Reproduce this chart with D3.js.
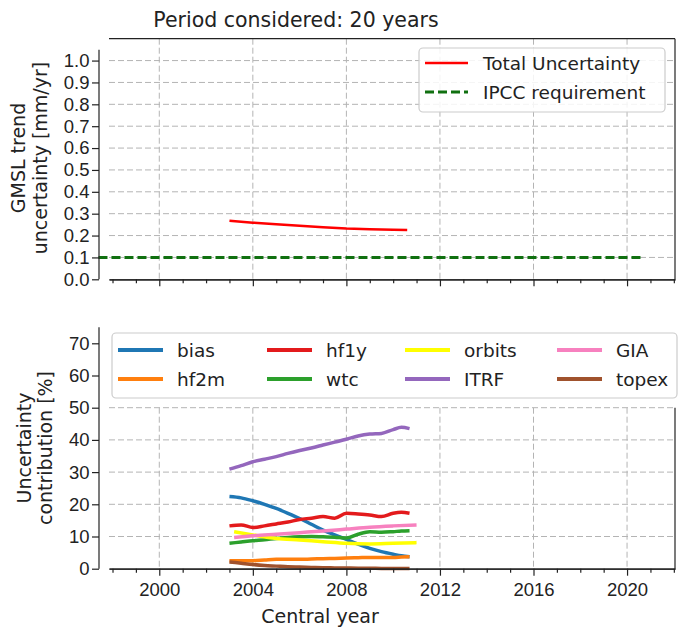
<!DOCTYPE html>
<html>
<head>
<meta charset="utf-8">
<script src="https://cdn.jsdelivr.net/npm/d3@7"></script>
<style>
  body { margin: 0; background: #fff; }
  svg { font-family: "DejaVu Sans", sans-serif; }
</style>
</head>
<body>
<div id="chart"></div>
<script>
// ---- data ----
var totalYears = [2003, 2004, 2005, 2006, 2007, 2008, 2009, 2010, 2010.6];
var totalUnc = [0.268, 0.259, 0.252, 0.245, 0.238, 0.232, 0.229, 0.227, 0.225];
var ipccYears = [1997.4, 2020.6];
var ipccReq = [0.1, 0.1];

var years = [2003, 2003.5, 2004, 2004.5, 2005, 2005.5, 2006, 2006.5, 2007, 2007.5,
             2008, 2008.5, 2009, 2009.5, 2010, 2010.35, 2010.7];
var bias = [22.4, 22.0, 21.1, 20.0, 18.7, 17.2, 15.6, 13.8, 12.0, 10.5, 9.1, 7.6, 6.3, 5.3, 4.5, 4.0, 3.7];
var hf2m = [2.5, 2.5, 2.5, 2.7, 2.9, 2.9, 2.9, 3.0, 3.1, 3.2, 3.3, 3.4, 3.5, 3.5, 3.5, 3.6, 3.7];
var hf1y = [13.3, 13.6, 12.8, 13.3, 13.9, 14.5, 15.3, 15.7, 16.2, 15.7, 17.2, 17.0, 16.7, 16.2, 17.2, 17.5, 17.2];
var wtc = [7.9, 8.3, 8.7, 9.0, 9.4, 9.7, 9.9, 10.0, 9.9, 9.8, 9.5, 10.7, 11.5, 11.3, 11.5, 11.7, 11.8];
var itrf = [30.9, 32.0, 33.2, 34.0, 34.8, 35.8, 36.7, 37.5, 38.4, 39.3, 40.2, 41.2, 41.8, 42.0, 43.2, 43.9, 43.5];
var topex = [2.1, 1.7, 1.3, 1.0, 0.8, 0.6, 0.5, 0.4, 0.3, 0.25, 0.2, 0.15, 0.15, 0.1, 0.1, 0.1, 0.1];

var yearsLong = [2003.2, 2004, 2005, 2006, 2007, 2008, 2009, 2010, 2011];
var orbits = [11.5, 10.5, 9.4, 8.9, 8.4, 7.9, 7.7, 7.9, 8.1];
var gia = [9.7, 10.2, 10.7, 11.2, 11.7, 12.3, 12.9, 13.3, 13.6];

var topTicks = [0, 0.1, 0.2, 0.3, 0.4, 0.5, 0.6, 0.7, 0.8, 0.9, 1.0];
var botTicks = [0, 10, 20, 30, 40, 50, 60, 70];
var yearTicks = [2000, 2004, 2008, 2012, 2016, 2020];
var minorYears = d3.range(1998, 2023);

var series = [
  { name: "bias", x: years, y: bias, color: "#1f77b4" },
  { name: "hf2m", x: years, y: hf2m, color: "#ff7f0e" },
  { name: "hf1y", x: years, y: hf1y, color: "#e31a1c" },
  { name: "wtc", x: years, y: wtc, color: "#2ca02c" },
  { name: "orbits", x: yearsLong, y: orbits, color: "#ffff00" },
  { name: "ITRF", x: years, y: itrf, color: "#9467bd" },
  { name: "GIA", x: yearsLong, y: gia, color: "#f781bf" },
  { name: "topex", x: years, y: topex, color: "#a0522d" }
];

// ---- layout ----
var W = 679, H = 629;
var svg = d3.select("#chart").append("svg").attr("width", W).attr("height", H);

var x = d3.scaleLinear().domain([1997.85, 2022.05]).range([109, 675]);
var yTop = d3.scaleLinear().domain([0, 1.1]).range([279.3, 38.7]);
var yBot = d3.scaleLinear().domain([0, 75]).range([568.7, 327.2]);

var gridColor = "#b4b4b4", spineColor = "#222";

function drawGrid(g, y, yticks, yMaxGrid) {
  g.selectAll(".hg").data(yticks.filter(function(d) { return d > 0 && d <= yMaxGrid; }))
    .enter().append("line")
    .attr("x1", x.range()[0]).attr("x2", x.range()[1])
    .attr("y1", function(d) { return y(d); }).attr("y2", function(d) { return y(d); })
    .attr("stroke", gridColor).attr("stroke-width", 1).attr("stroke-dasharray", "6,3");
  g.selectAll(".vg").data(yearTicks).enter().append("line")
    .attr("x1", function(d) { return x(d); }).attr("x2", function(d) { return x(d); })
    .attr("y1", y(yMaxGrid)).attr("y2", y(0))
    .attr("stroke", gridColor).attr("stroke-width", 1).attr("stroke-dasharray", "6,3");
}

function drawXAxis(g, y, labels) {
  var major = d3.axisBottom(x).tickValues(yearTicks).tickSize(7).tickSizeOuter(0)
    .tickFormat(labels ? d3.format("d") : "");
  var minor = d3.axisBottom(x).tickValues(minorYears.filter(function(d) { return d % 4 != 0; }))
    .tickSize(4).tickSizeOuter(0).tickFormat("");
  var gm = g.append("g").attr("transform", "translate(0," + y(0) + ")").call(minor);
  var gM = g.append("g").attr("transform", "translate(0," + y(0) + ")").call(major);
  [gm, gM].forEach(function(a) {
    a.select(".domain").attr("stroke", spineColor).attr("stroke-width", 1.2);
    a.selectAll(".tick line").attr("stroke", spineColor).attr("stroke-width", 1.2);
  });
  gM.selectAll("text").attr("font-size", 18.5).attr("fill", "#222").attr("dy", "0.71em")
    .attr("y", 14);
}

function drawYAxis(g, y, ticks, fmt, topVal) {
  var ax = d3.axisLeft(y).tickValues(ticks).tickSize(7).tickPadding(2.5).tickFormat(fmt);
  var ga = g.append("g").attr("transform", "translate(99,0)").call(ax);
  ga.select(".domain").remove();
  ga.selectAll(".tick line").attr("stroke", spineColor).attr("stroke-width", 1.2);
  ga.selectAll("text").attr("font-size", 18.5).attr("fill", "#222");
  g.append("line").attr("x1", 99).attr("x2", 99).attr("y1", y(topVal)).attr("y2", y(0))
    .attr("stroke", spineColor).attr("stroke-width", 1.2);
}

function yLabel(g, lines, cy, xs) {
  lines.forEach(function(t, i) {
    g.append("text").attr("transform", "translate(" + xs[i] + "," + cy + ") rotate(-90)")
      .attr("text-anchor", "middle").attr("font-size", 19).attr("fill", "#222").text(t);
  });
}

// ---- top panel ----
var topG = svg.append("g");
drawGrid(topG, yTop, topTicks, 1.1);
// top and right spines
topG.append("line").attr("x1", x.range()[0]).attr("x2", x.range()[1])
  .attr("y1", yTop(1.1)).attr("y2", yTop(1.1)).attr("stroke", spineColor).attr("stroke-width", 1.2);
topG.append("line").attr("x1", x.range()[1]).attr("x2", x.range()[1])
  .attr("y1", yTop(1.1)).attr("y2", yTop(0)).attr("stroke", spineColor).attr("stroke-width", 1.2);

var lineTop = d3.line().x(function(d) { return x(d[0]); }).y(function(d) { return yTop(d[1]); });
topG.append("path").attr("d", lineTop(d3.zip(ipccYears, ipccReq)))
  .attr("fill", "none").attr("stroke", "#107010").attr("stroke-width", 3)
  .attr("stroke-dasharray", "9,4");
topG.append("path").attr("d", lineTop(d3.zip(totalYears, totalUnc)))
  .attr("fill", "none").attr("stroke", "#ff0000").attr("stroke-width", 2.5);

drawXAxis(topG, yTop, false);
drawYAxis(topG, yTop, topTicks, d3.format(".1f"), 1.05);
yLabel(topG, ["GMSL trend", "uncertainty [mm/yr]"], 158, [25, 47]);

svg.append("text").attr("x", 296).attr("y", 27).attr("text-anchor", "middle")
  .attr("font-size", 20.5).attr("fill", "#222").text("Period considered: 20 years");

// top legend
var lg1 = topG.append("g");
lg1.append("rect").attr("x", 419).attr("y", 48).attr("width", 246).attr("height", 64)
  .attr("rx", 4).attr("fill", "#fff").attr("fill-opacity", 0.85)
  .attr("stroke", "#cccccc").attr("stroke-width", 1.2);
[{ t: "Total Uncertainty", c: "#ff0000", dash: null, w: 2.5, y: 63 },
 { t: "IPCC requirement", c: "#107010", dash: "9,4", w: 3, y: 92 }].forEach(function(d) {
  lg1.append("line").attr("x1", 425).attr("x2", 468).attr("y1", d.y).attr("y2", d.y)
    .attr("stroke", d.c).attr("stroke-width", d.w).attr("stroke-dasharray", d.dash);
  lg1.append("text").attr("x", 483).attr("y", d.y + 6.5).attr("font-size", 18.5)
    .attr("fill", "#222").text(d.t);
});

// ---- bottom panel ----
var botG = svg.append("g");
drawGrid(botG, yBot, botTicks, 50);
botG.append("line").attr("x1", x.range()[1]).attr("x2", x.range()[1])
  .attr("y1", yBot(50)).attr("y2", yBot(0)).attr("stroke", spineColor).attr("stroke-width", 1.2);

var lineBot = d3.line().curve(d3.curveMonotoneX)
  .x(function(d) { return x(d[0]); }).y(function(d) { return yBot(d[1]); });
series.forEach(function(s) {
  botG.append("path").attr("d", lineBot(d3.zip(s.x, s.y)))
    .attr("fill", "none").attr("stroke", s.color).attr("stroke-width", 3.5)
    .attr("stroke-linejoin", "round").attr("stroke-linecap", "butt");
});

drawXAxis(botG, yBot, true);
drawYAxis(botG, yBot, botTicks, d3.format("d"), 75);
yLabel(botG, ["Uncertainty", "contribution [%]"], 448, [31, 52]);

svg.append("text").attr("x", 320).attr("y", 623).attr("text-anchor", "middle")
  .attr("font-size", 19).attr("fill", "#222").text("Central year");

// bottom legend, 4 columns filled column-wise
var lg2 = botG.append("g");
lg2.append("rect").attr("x", 112).attr("y", 333).attr("width", 565).attr("height", 65)
  .attr("rx", 4).attr("fill", "#fff").attr("fill-opacity", 0.9)
  .attr("stroke", "#cccccc").attr("stroke-width", 1.2);
var colX = [118, 267, 405, 557], rowY = [350, 379];
series.forEach(function(s, i) {
  var cx = colX[Math.floor(i / 2)], cy = rowY[i % 2];
  lg2.append("line").attr("x1", cx).attr("x2", cx + 45).attr("y1", cy).attr("y2", cy)
    .attr("stroke", s.color).attr("stroke-width", 4);
  lg2.append("text").attr("x", cx + 59).attr("y", cy + 6.5).attr("font-size", 18.5)
    .attr("fill", "#222").text(s.name);
});
</script>
</body>
</html>
